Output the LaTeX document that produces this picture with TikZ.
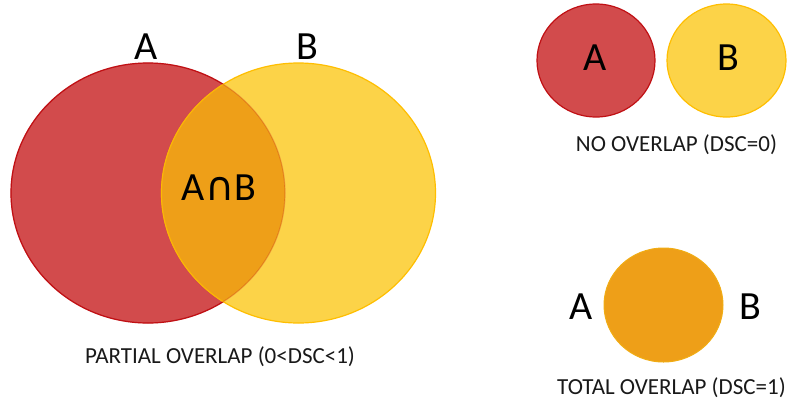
\documentclass[tikz,border=0pt]{standalone}
\usepackage{fontspec}
\usetikzlibrary{shapes.geometric}
\setmainfont{Carlito}
\newfontfamily\symfont{DejaVu Sans}
\definecolor{redfill}{RGB}{210,75,76}
\definecolor{rededge}{RGB}{192,16,20}
\definecolor{yelfill}{RGB}{252,211,72}
\definecolor{yeledge}{RGB}{255,190,0}
\definecolor{orafill}{RGB}{238,159,24}
\definecolor{txtcol}{RGB}{25,25,25}
\tikzset{
  big/.style={font=\fontsize{40}{44}\selectfont, text=black, inner sep=0pt},
  caption/.style={font=\fontsize{23}{26}\selectfont, text=txtcol, inner sep=0pt},
  redset/.style={fill=redfill, draw=rededge, line width=1.2pt},
  yelset/.style={fill=yelfill, draw=yeledge, line width=1.2pt},
}
\begin{document}
\begin{tikzpicture}[x=1pt,y=-1pt]
\useasboundingbox (0,0) rectangle (792,408);
% partial overlap
\path[redset] (148,193) ellipse [x radius=137, y radius=130];
\path[yelset] (298.5,193) ellipse [x radius=137, y radius=130];
\begin{scope}
  \clip (148,193) ellipse [x radius=137, y radius=130];
  \fill[orafill] (298.5,193) ellipse [x radius=137, y radius=130];
  \draw[yeledge, line width=1.2pt, opacity=0.6] (298.5,193) ellipse [x radius=137, y radius=130];
\end{scope}
\draw[rededge, line width=1.2pt, opacity=0.25] (148,193) ellipse [x radius=137, y radius=130];
\node[big] (la) at (146,47) {A};
\node[big] (lb) at (307,47) {B};
\node[big] (lab) at (219,188) {A{\symfont ∩}B};
\node[caption] (cap1) at (220,357) {PARTIAL OVERLAP (0<DSC<1)};
% no overlap
\node[redset, ellipse, minimum width=118pt, minimum height=113pt, inner sep=0pt] (ca) at (596,60.5) {};
\node[yelset, ellipse, minimum width=119pt, minimum height=113pt, inner sep=0pt] (cb) at (726.5,60.5) {};
\node[big] (na) at (595,58) {A};
\node[big] (nb) at (728,58) {B};
\node[caption] (cap2) at (676.5,145) {NO OVERLAP (DSC=0)};
% total overlap
\node[fill=orafill, draw=orafill!85!yellow, line width=1pt, ellipse, minimum width=119pt, minimum height=114pt, inner sep=0pt] (cab) at (663.5,305) {};
\node[big] (ta) at (581,307) {A};
\node[big] (tb) at (750,307) {B};
\node[caption] (cap3) at (671.5,388) {TOTAL OVERLAP (DSC=1)};
\end{tikzpicture}
\end{document}
